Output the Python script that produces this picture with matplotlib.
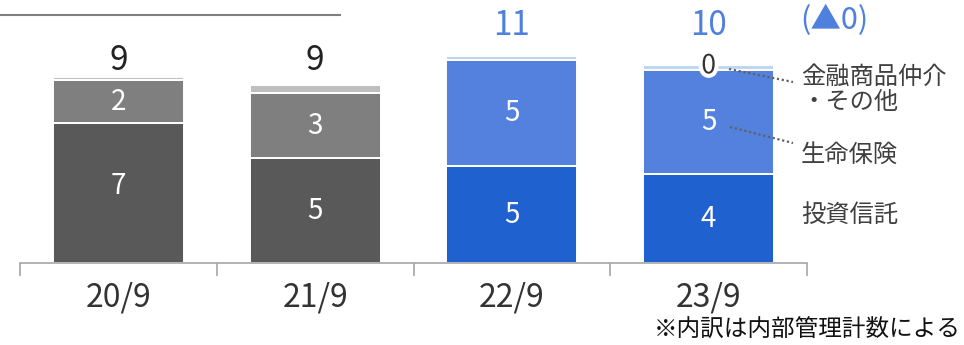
import matplotlib
matplotlib.use("Agg")
import matplotlib.pyplot as plt
import matplotlib.patheffects as pe
import numpy as np

plt.rcParams['font.family'] = ['Noto Sans CJK JP', 'DejaVu Sans']

# ---- data ----
categories = ["20/9", "21/9", "22/9", "23/9"]
toushin = [7.18, 5.38, 4.97, 4.56]          # 投資信託
seimei = [2.18, 3.33, 5.42, 5.33]           # 生命保険
sonota = [0.20, 0.44, 0.25, 0.27]           # 金融商品仲介・その他
toushin_labels = ["7", "5", "5", "4"]
seimei_labels = ["2", "3", "5", "5"]
sonota_label_last = "0"
total_labels = ["9", "9", "11", "10"]
change_label = "(▲0)"
series_names = ["投資信託", "生命保険", "金融商品仲介\n・その他"]
footnote = "※内訳は内部管理計数による"

# ---- styling ----
gray_cols = ["#595959", "#7f7f7f", "#bfbfbf"]
blue_cols = ["#1f61ce", "#5381dd", "#bdd7ee"]
blue_text = "#4f80de"
is_blue = [False, False, True, True]

W, H = 964, 345
fig = plt.figure(figsize=(W / 100, H / 100), dpi=100)
ax = fig.add_axes([20 / W, (H - 263) / H, 787 / W, 234 / H])

x = np.arange(len(categories))
bw = 0.665
c1 = [blue_cols[0] if b else gray_cols[0] for b in is_blue]
c2 = [blue_cols[1] if b else gray_cols[1] for b in is_blue]
c3 = [blue_cols[2] if b else gray_cols[2] for b in is_blue]
b1 = np.array(toushin)
b2 = b1 + np.array(seimei)
tot = b2 + np.array(sonota)

ax.bar(x, toushin, bw, color=c1, edgecolor="white", linewidth=1.4)
ax.bar(x, seimei, bw, bottom=b1, color=c2, edgecolor="white", linewidth=1.4)
ax.bar(x, sonota, bw, bottom=b2, color=c3, edgecolor="white", linewidth=1.4)

ax.set_xlim(-0.5, len(categories) - 0.5)
ax.set_ylim(0, 12)

# inner labels
for i in range(len(categories)):
    ax.text(x[i], b1[i] / 2 + (0.35 if i == 0 else 0), toushin_labels[i],
            ha="center", va="center", color="white", fontsize=20)
    ax.text(x[i], b1[i] + seimei[i] / 2, seimei_labels[i], ha="center",
            va="center", color="white", fontsize=20)

# zero label on last bar
ax.text(x[-1], tot[-1] - 0.05, sonota_label_last, ha="center", va="center",
        color="#333333", fontsize=19,
        path_effects=[pe.withStroke(linewidth=6, foreground="white")])

# total labels
for i in range(len(categories)):
    if is_blue[i]:
        ax.text(x[i], 12.2, total_labels[i], ha="center", va="center",
                color=blue_text, fontsize=24)
    else:
        ax.text(x[i], 10.4, total_labels[i], ha="center", va="center",
                color="#222222", fontsize=24)

# change label
fig.text(800 / W, 1 - 20 / H, change_label, ha="left", va="center",
         color=blue_text, fontsize=22)

# series labels on right
lab_fs = 17.5
fig.text(801 / W, 1 - 77 / H, "金融商品仲介", ha="left", va="center",
         color="#404040", fontsize=lab_fs)
fig.text(801 / W, 1 - 102 / H, "・その他", ha="left", va="center",
         color="#404040", fontsize=lab_fs)
fig.text(801 / W, 1 - 155 / H, series_names[1], ha="left", va="center",
         color="#404040", fontsize=lab_fs)
fig.text(801 / W, 1 - 215 / H, series_names[0], ha="left", va="center",
         color="#404040", fontsize=lab_fs)

# leader lines
leader_kw = dict(color="#606060", lw=1.6, linestyle=(0, (1, 1.2)))
fig.add_artist(plt.Line2D([729 / W, 793 / W], [1 - 69 / H, 1 - 82 / H], **leader_kw))
fig.add_artist(plt.Line2D([730 / W, 793 / W], [1 - 127 / H, 1 - 143 / H], **leader_kw))

# axes styling
for s in ["top", "right", "left"]:
    ax.spines[s].set_visible(False)
ax.spines["bottom"].set_color("#a6a6a6")
ax.spines["bottom"].set_linewidth(1.2)
ax.set_yticks([])
ax.set_xticks(x)
ax.set_xticklabels(categories, fontsize=23, color="#333333")
ax.tick_params(axis="x", which="major", length=0, pad=13)
ax.set_xticks(np.arange(-0.5, len(categories)), minor=True)
ax.tick_params(axis="x", which="minor", length=9, color="#a6a6a6", width=1.2,
               direction="out")

# top-left rule
fig.add_artist(plt.Line2D([0, 340 / W], [1 - 15 / H, 1 - 15 / H],
                          color="#7f7f7f", lw=1.5))

# footnote
fig.text(961 / W, 1 - 330 / H, footnote, ha="right", va="center",
         color="#111111", fontsize=17)

fig.savefig("out.png", dpi=100)
